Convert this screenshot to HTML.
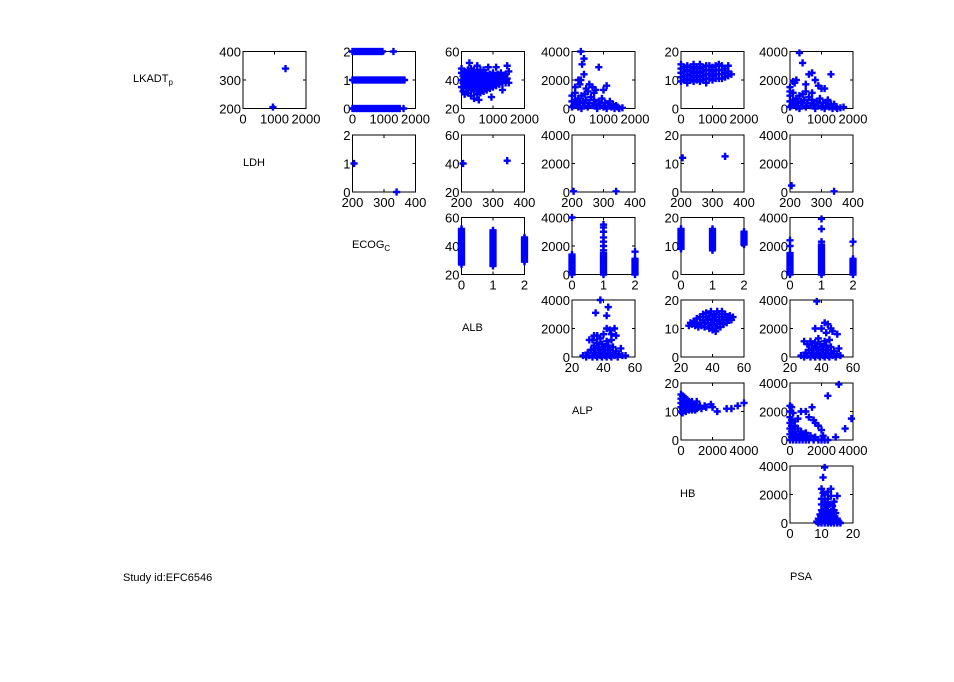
<!DOCTYPE html>
<html><head><meta charset="utf-8"><style>
body{margin:0;background:#fff;}
svg{display:block;font-family:"Liberation Sans",Arial,sans-serif;}
</style></head><body>
<svg id="chart" width="954" height="682" viewBox="0 0 954 682" xmlns="http://www.w3.org/2000/svg">
<rect x="0" y="0" width="954" height="682" fill="#fff"/>
<g font-size="11" fill="#000">
<text x="133" y="82">LKADT<tspan font-size="8" dy="3">p</tspan></text>
<text x="243" y="166">LDH</text>
<text x="352" y="248">ECOG<tspan font-size="8" dy="3">C</tspan></text>
<text x="462" y="331">ALB</text>
<text x="572" y="414">ALP</text>
<text x="680" y="497">HB</text>
<text x="790" y="580">PSA</text>
<text x="123" y="581">Study id:EFC6546</text>
</g>
<g id="panels"></g>
</svg>
<script>
// variable domains and tick labels
const varNames=["LKADT","LDH","ECOG","ALB","ALP","HB","PSA"];
const domLo=[0,200,0,20,0,0,0];
const domHi=[2000,400,2,60,4000,20,4000];
const tickLKADT=[0,1000,2000];
const tickLDH=[200,300,400];
const tickECOG=[0,1,2];
const tickALB=[20,40,60];
const tickALP=[0,2000,4000];
const tickHB=[0,10,20];
const tickPSA=[0,2000,4000];
const ticks=[tickLKADT,tickLDH,tickECOG,tickALB,tickALP,tickHB,tickPSA];

// data per panel ([x,y] pairs)
const lkadtLdh=[[950,205],[1350,340]];
const lkadtEcog2X=[0,50,100,150,200,250,300,350,400,450,500,550,600,650,700,750,800,850,900,950,1300];
const lkadtEcog1X=[0,50,100,150,200,250,300,350,400,450,500,550,600,650,700,750,800,850,900,950,1000,1050,1100,1150,1200,1250,1300,1350,1400,1450,1500,1550,1600,1650];
const lkadtEcog0X=[0,50,100,150,200,250,300,350,400,450,500,550,600,650,700,750,800,850,900,950,1000,1050,1100,1150,1200,1250,1300,1350,1400,1450,1500,1620];
const lkadtAlb=[[0,35],[0,40],[0,45],[0,48],[50,32],[50,38],[50,43],[100,30],[100,36],[100,41],[100,46],[150,34],[150,39],[150,44],[200,31],[200,37],[200,42],[200,47],[250,35],[250,40],[250,45],[300,29],[300,33],[300,38],[300,43],[300,48],[350,36],[350,41],[350,46],[400,27],[400,32],[400,37],[400,42],[400,47],[450,34],[450,39],[450,44],[500,30],[500,36],[500,41],[500,46],[500,50],[550,33],[550,38],[550,43],[600,31],[600,36],[600,41],[600,47],[650,34],[650,39],[650,44],[700,32],[700,37],[700,42],[700,47],[750,35],[750,40],[750,45],[800,33],[800,38],[800,43],[850,36],[850,41],[850,49],[900,34],[900,39],[900,44],[950,37],[950,42],[950,28],[1000,35],[1000,40],[1000,45],[1050,38],[1050,43],[1100,36],[1100,41],[1100,49],[1150,39],[1150,44],[1200,37],[1200,42],[1250,40],[1250,45],[1300,33],[1300,38],[1300,43],[1350,40],[1400,38],[1400,44],[1450,41],[1450,50],[1500,38],[1500,46],[550,26],[250,52]];
const lkadtAlp=[[0,100],[0,500],[0,900],[50,200],[100,600],[100,1100],[150,300],[200,100],[200,700],[250,400],[300,0],[300,900],[350,500],[400,200],[400,1000],[450,600],[500,100],[500,1200],[550,400],[600,800],[650,200],[700,600],[700,1100],[750,300],[800,0],[850,500],[900,200],[950,700],[1000,100],[1050,400],[1100,0],[1150,200],[1200,500],[1250,100],[1300,300],[1350,0],[1400,200],[1450,100],[1500,0],[1600,50],[280,4000],[380,3500],[320,3100],[850,2900],[380,2400],[200,2000],[280,2000],[100,1500],[550,1700],[1100,1600],[1000,1300],[650,1500],[450,1400],[250,1700],[750,1300]];
const lkadtHb=[[0,9.5],[0,11],[0,12.5],[0,14],[0,15.5],[100,10],[100,11.5],[100,13],[100,14.5],[200,9],[200,10.5],[200,12],[200,13.5],[200,15],[300,10],[300,11.5],[300,13],[300,14.5],[400,9.5],[400,11],[400,12.5],[400,14],[400,15.5],[500,10],[500,11.5],[500,13],[500,14.5],[600,9.5],[600,11],[600,12.5],[600,14],[600,15.5],[700,10],[700,11.5],[700,13],[700,14.5],[800,9],[800,10.5],[800,12],[800,13.5],[800,15],[900,10.5],[900,12],[900,13.5],[900,15],[1000,10],[1000,11.5],[1000,13],[1000,14.5],[1100,10.5],[1100,12],[1100,13.5],[1100,15],[1200,10.5],[1200,12],[1200,13.5],[1200,15.5],[1300,10.5],[1300,12],[1300,13.5],[1300,15],[1400,11],[1400,12.5],[1400,14],[1500,11.5],[1500,13],[1500,15],[1600,12]];
const lkadtPsa=[[0,100],[0,500],[0,900],[50,200],[100,600],[100,1100],[150,300],[200,100],[200,700],[250,400],[300,0],[300,900],[350,500],[400,200],[400,1000],[450,600],[500,100],[500,1200],[550,400],[600,800],[650,200],[700,600],[700,1100],[750,300],[800,0],[850,500],[900,200],[950,700],[1000,100],[1050,400],[1100,0],[1150,200],[1200,500],[1250,100],[1300,300],[1350,0],[1400,200],[1450,100],[1500,0],[1600,50],[300,3900],[400,3200],[600,2400],[700,2500],[200,2000],[100,1900],[150,1800],[800,2000],[1300,2400],[1000,1400],[1100,1400],[900,1600],[500,1700],[1200,600],[1400,300],[1700,100],[0,1500],[0,1200]];
const ldhEcog=[[205,1],[340,0]];
const ldhAlb=[[205,40],[345,42]];
const ldhAlp=[[205,50],[340,50]];
const ldhHb=[[205,12],[340,12.5]];
const ldhPsa=[[205,450],[340,50]];
const ecogAlb0=[27,28,29,30,31,32,33,34,35,36,37,38,39,40,41,42,43,44,45,46,47,48,49,50,51,52];
const ecogAlb1=[26,27,28,29,30,31,32,33,34,35,36,37,38,39,40,41,42,43,44,45,46,47,48,49,50,51];
const ecogAlb2=[29,30,31,32,33,34,35,36,37,38,39,40,41,42,43,44,45,46];
const ecogAlp0=[0,100,200,300,400,500,600,700,800,900,1000,1100,1200,1300,1400,4000];
const ecogAlp1=[0,100,200,300,400,500,600,700,800,900,1000,1100,1200,1300,1400,1500,1700,2000,2300,2600,3000,3300,3500];
const ecogAlp2=[0,100,200,300,400,500,600,700,800,900,1000,1100,1600];
const ecogHb0=[9,9.5,10,10.5,11,11.5,12,12.5,13,13.5,14,14.5,15,15.5,16];
const ecogHb1=[8.5,9,9.5,10,10.5,11,11.5,12,12.5,13,13.5,14,14.5,15,15.5,16];
const ecogHb2=[10.5,11,11.5,12,12.5,13,13.5,14,14.5,15];
const ecogPsa0=[0,100,200,300,400,500,600,700,800,900,1000,1100,1200,1300,1400,1500,2000,2400];
const ecogPsa1=[0,100,200,300,400,500,600,700,800,900,1000,1100,1200,1300,1400,1500,1600,1700,1800,1900,2000,2100,2300,3200,3900];
const ecogPsa2=[0,100,200,300,400,500,600,700,800,900,1000,1100,2300];
const albAlp=[[27,100],[29,0],[30,300],[31,100],[32,500],[33,0],[33,1200],[34,300],[34,800],[35,100],[35,600],[36,0],[36,1000],[37,300],[37,700],[38,100],[38,500],[38,1300],[39,0],[39,900],[40,300],[40,700],[40,1600],[41,100],[41,500],[42,0],[42,1100],[43,300],[43,800],[44,100],[44,500],[45,0],[45,1200],[46,300],[46,700],[47,100],[48,400],[48,1500],[49,0],[50,200],[51,600],[52,100],[54,100],[31,1200],[36,1500],[44,1900],[47,2000],[42,2000],[38,4000],[43,3500],[35,3100],[42,2900],[34,1500],[45,1600]];
const albHb=[[25,11],[26,12],[27,11.5],[28,12.5],[29,11],[30,12],[30,13.5],[31,10.5],[32,12],[32,14],[33,11],[34,13],[34,15],[35,10.5],[35,12],[36,14],[36,15.5],[37,11.5],[37,13],[38,10],[38,14.5],[39,12],[39,16],[40,9.5],[40,11],[40,13.5],[41,15],[41,12.5],[42,10],[42,14],[43,11.5],[43,16],[44,13],[44,15],[45,10.5],[45,12],[46,14],[46,16],[47,11.5],[47,13],[48,15],[49,12],[49,14],[50,13],[51,14.5],[52,13],[53,14],[42,9]];
const albPsa=[[27,100],[29,0],[30,300],[31,100],[32,500],[33,0],[34,300],[34,800],[35,100],[35,600],[36,0],[36,1000],[37,300],[37,700],[38,100],[38,500],[38,1300],[39,0],[39,900],[40,300],[40,700],[41,100],[41,500],[42,0],[42,1100],[43,300],[43,800],[44,100],[44,500],[45,0],[45,1200],[46,300],[46,700],[47,100],[48,400],[49,0],[50,200],[51,600],[52,100],[37,3900],[42,2400],[44,2300],[36,2000],[40,2000],[46,2000],[47,1800],[33,1100],[50,1600],[29,1100],[31,900],[43,1700]];
const alpHb=[[0,10],[0,11.5],[0,13],[0,14.5],[0,16],[100,9.5],[100,11],[100,12.5],[100,14],[100,15.5],[200,10.5],[200,12],[200,13.5],[200,15],[300,10],[300,11.5],[300,13],[300,14.5],[400,11],[400,12.5],[400,14],[500,10.5],[500,12],[500,13.5],[600,11],[600,12.5],[700,10.5],[700,12],[700,13.5],[800,11],[800,12.5],[900,10.5],[900,12],[1000,11],[1000,13.5],[1100,11.5],[1200,12],[1300,11],[1500,12],[1600,11.5],[1900,12.5],[2000,11.5],[2300,10],[2900,11],[3200,11],[3600,12],[4000,13]];
const alpPsa=[[0,0],[0,400],[0,800],[0,1200],[0,1600],[0,2000],[0,2400],[100,200],[100,600],[100,1000],[100,1400],[100,2300],[200,0],[200,400],[200,800],[200,1900],[300,200],[300,600],[300,1000],[400,0],[400,400],[500,200],[500,800],[600,0],[600,400],[700,200],[700,600],[800,0],[800,400],[900,200],[1000,0],[1000,500],[1100,200],[1200,0],[1300,300],[1500,0],[1600,200],[1800,0],[2000,0],[2200,0],[2400,0],[300,1300],[500,1500],[700,2000],[1000,2000],[1400,2300],[1600,1200],[1800,1000],[2000,700],[2100,300],[2900,200],[3100,3900],[2400,3100],[3900,1500],[3500,800],[1500,1400],[1200,1600]];
const hbPsa=[[9,0],[9,300],[9.5,100],[9.5,600],[10,0],[10,400],[10,900],[10.5,200],[10.5,700],[11,0],[11,500],[11,1000],[11.5,200],[11.5,800],[12,0],[12,400],[12,900],[12.5,100],[12.5,600],[13,0],[13,300],[13,800],[13.5,100],[13.5,500],[14,0],[14,400],[14.5,200],[14.5,700],[15,0],[15,300],[15.5,100],[16,0],[8.5,100],[10,1300],[10,1700],[10.5,2100],[10,2400],[11,1500],[11,2000],[11.5,1200],[12,1700],[12,2200],[12.5,1300],[13,2400],[13,1900],[13.5,1200],[14,1500],[15,1900],[11,3900],[10.5,3200],[12,1400],[14,900]];

function stack(xv,arr){return arr.map(v=>[xv,v]);}
function stackX(yv,arr){return arr.map(v=>[v,yv]);}

const panelsSpec=[
 [0,0,0,1,lkadtLdh],
 [0,1,0,2,stackX(2,lkadtEcog2X).concat(stackX(1,lkadtEcog1X),stackX(0,lkadtEcog0X))],
 [0,2,0,3,lkadtAlb],[0,3,0,4,lkadtAlp],[0,4,0,5,lkadtHb],[0,5,0,6,lkadtPsa],
 [1,1,1,2,ldhEcog],[1,2,1,3,ldhAlb],[1,3,1,4,ldhAlp],[1,4,1,5,ldhHb],[1,5,1,6,ldhPsa],
 [2,2,2,3,stack(0,ecogAlb0).concat(stack(1,ecogAlb1),stack(2,ecogAlb2))],
 [2,3,2,4,stack(0,ecogAlp0).concat(stack(1,ecogAlp1),stack(2,ecogAlp2))],
 [2,4,2,5,stack(0,ecogHb0).concat(stack(1,ecogHb1),stack(2,ecogHb2))],
 [2,5,2,6,stack(0,ecogPsa0).concat(stack(1,ecogPsa1),stack(2,ecogPsa2))],
 [3,3,3,4,albAlp],[3,4,3,5,albHb],[3,5,3,6,albPsa],
 [4,4,4,5,alpHb],[4,5,4,6,alpPsa],
 [5,5,5,6,hbPsa]
];
const colLeft=[243,352.5,461.5,572,681,790];
const rowTop=[51.5,135,217.5,300,383,466];
const W=63,H=57;
const NS="http://www.w3.org/2000/svg";
const root=document.getElementById('panels');
function mk(tag,attrs,parent){const e=document.createElementNS(NS,tag);for(const k in attrs)e.setAttribute(k,attrs[k]);parent.appendChild(e);return e;}

panelsSpec.forEach(([row,col,xv,yv,pts])=>{
  const L=colLeft[col],T=rowTop[row];
  const g=mk('g',{},root);
  
  
  const sx=v=>L+(v-domLo[xv])/(domHi[xv]-domLo[xv])*W;
  const sy=v=>T+H-(v-domLo[yv])/(domHi[yv]-domLo[yv])*H;
  const box=mk('rect',{x:L,y:T,width:W,height:H,fill:'#fff',stroke:'#000','stroke-width':1},g);
  
  
  ticks[xv].forEach(t=>{
    const x=sx(t);
    mk('line',{x1:x,y1:T+H,x2:x,y2:T+H-3,stroke:'#000'},g);
    mk('line',{x1:x,y1:T,x2:x,y2:T+3,stroke:'#000'},g);
    const tx=mk('text',{x:x,y:T+H+15,'font-size':13,'text-anchor':'middle'},g);
    
    
    tx.textContent=t;
  });
  ticks[yv].forEach(t=>{
    const y=sy(t);
    mk('line',{x1:L,y1:y,x2:L+3,y2:y,stroke:'#000'},g);
    mk('line',{x1:L+W,y1:y,x2:L+W-3,y2:y,stroke:'#000'},g);
    const ty=mk('text',{x:L-2,y:y+5,'font-size':13,'text-anchor':'end'},g);
    
    
    ty.textContent=t;
  });
  pts.forEach(([a,b])=>{
    const x=sx(a),y=sy(b),r=3.6,s=1.2;
    const p=mk('path',{d:`M${x-s},${y-r}H${x+s}V${y-s}H${x+r}V${y+s}H${x+s}V${y+r}H${x-s}V${y+s}H${x-r}V${y-s}H${x-s}Z`,fill:'#0000ff'},g);
    
    
  });
});
</script>
</body></html>
